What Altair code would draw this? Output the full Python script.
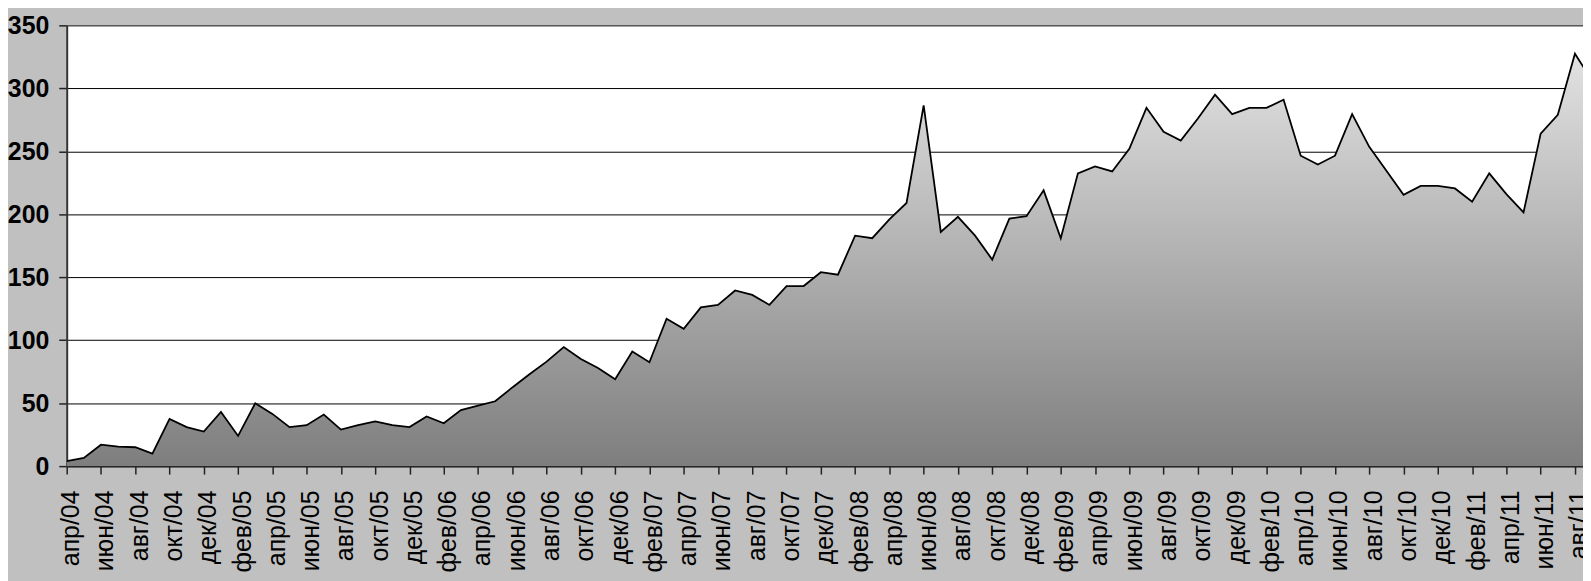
import altair as alt
import pandas as pd

# --- data -------------------------------------------------------------
month_names = ["янв", "фев", "мар", "апр", "май", "июн",
               "июл", "авг", "сен", "окт", "ноя", "дек"]
start_year, start_month = 2004, 4  # апр/04

values = [
    4, 6.5, 17, 15.5, 15, 10, 37.5, 31, 27.5,            # апр/04 - дек/04
    43, 24, 50, 41.5, 31, 32.5, 41, 29, 32.5, 35.5, 32.5, 31,   # 2005
    39.5, 34, 44.5, 48, 51.5, 62.5, 73, 83, 94.5, 85, 78, 69,   # 2006
    91, 82.5, 117, 109, 126, 128, 139.5, 136, 128, 143, 143, 154,  # 2007
    152, 183, 181, 196, 209, 286.5, 186, 198, 183, 164, 196.5, 198.5,  # 2008
    219, 181, 232.5, 238, 234, 252, 284.5, 265.5, 258.5, 276, 295, 279.5,  # 2009
    284.5, 284.5, 291, 246.5, 239.5, 246.5, 279.5, 253.5, 234.5, 215.5, 222.5, 222.5,  # 2010
    220.5, 210, 232.5, 216, 201.5, 264, 279, 327.5, 306,   # янв/11 - сен/11
]

month_labels = []
for i in range(len(values)):
    m = (start_month - 1 + i) % 12
    y = start_year + (start_month - 1 + i) // 12
    month_labels.append(f"{month_names[m]}/{y % 100:02d}")

tick_positions = list(range(0, len(values), 2))
tick_labels = [month_labels[i] for i in tick_positions]
y_ticks = [0, 50, 100, 150, 200, 250, 300, 350]

df = pd.DataFrame({"idx": list(range(len(values))), "value": values, "month": month_labels})

label_array = "[" + ",".join(f"'{s}'" for s in tick_labels) + "]"
label_expr = label_array + "[round(datum.value / 2)]"

x_enc = alt.X(
    "idx:Q",
    scale=alt.Scale(domain=[0, 88.47], nice=False, zero=False),
    axis=alt.Axis(
        values=tick_positions,
        labelExpr=label_expr,
        labelAngle=270,
        title=None,
        grid=False,
        tickSize=8,
        tickColor="#222222",
        tickWidth=1.5,
        labelPadding=16,
        labelOffset=4,
        labelFlush=False,
        labelOverlap=False,
        labelBound=False,
        labelFont="Liberation Sans, Arial, sans-serif",
        labelFontSize=25,
        labelColor="black",
        domainColor="#222222",
        domainWidth=2,
    ),
)

y_enc = alt.Y(
    "value:Q",
    scale=alt.Scale(domain=[0, 350], nice=False),
    axis=alt.Axis(
        values=y_ticks,
        title=None,
        grid=True,
        gridColor="black",
        gridWidth=1,
        tickSize=8,
        tickColor="#222222",
        tickWidth=1.5,
        labelPadding=10,
        labelFont="Liberation Sans Narrow, Liberation Sans, Arial, sans-serif",
        labelFontSize=25,
        labelFontWeight="bold",
        labelColor="black",
        domainColor="#333333",
        domainWidth=2,
    ),
)

gradient = alt.Gradient(
    gradient="linear",
    stops=[alt.GradientStop(color="#E2E2E2", offset=0),
           alt.GradientStop(color="#7E7E7E", offset=1)],
    x1=0, x2=0, y1=0, y2=1,
)

area = alt.Chart(df).mark_area(clip=True, color=gradient).encode(x=x_enc, y=y_enc)
line = alt.Chart(df).mark_line(clip=True, color="black", strokeWidth=1.8).encode(x=x_enc, y=y_enc)

chart = (
    alt.layer(area, line)
    .properties(
        width=1524,
        height=443,
        autosize=alt.AutoSizeParams(type="none"),
        padding={"left": 59, "top": 16, "right": 0, "bottom": 114},
        background="#C0C0C0",
    )
    .configure_view(fill="white", stroke=None, strokeWidth=0)
)

chart.save("out.html", embed_options={"renderer": "svg", "actions": False})
